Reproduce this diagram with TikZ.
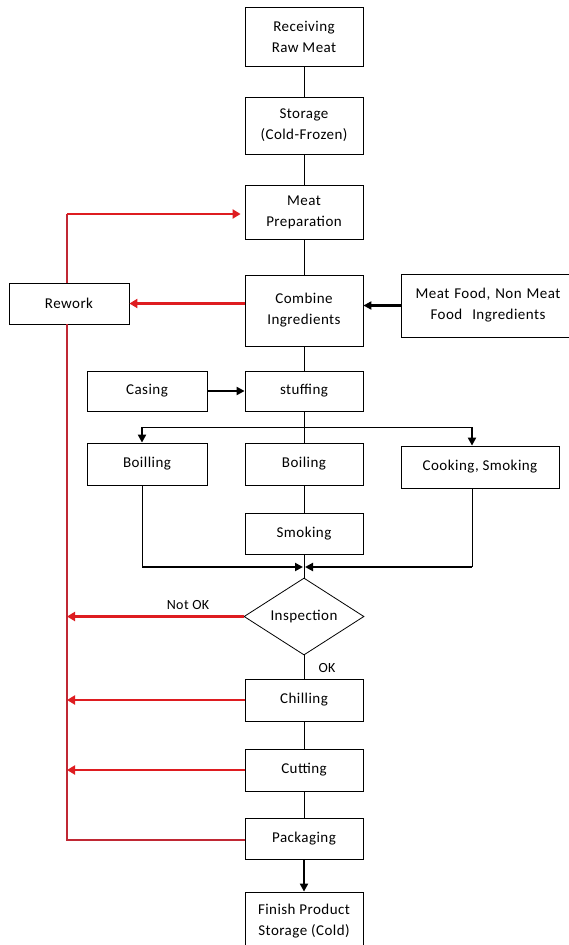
\documentclass[tikz,border=0pt]{standalone}
\usepackage{fontspec}
\setmainfont{Carlito}[LetterSpace=3]
\usetikzlibrary{arrows.meta,shapes.geometric}
\definecolor{fbred}{RGB}{222,28,32}
\definecolor{fbline}{RGB}{192,40,52}
\begin{document}
\begin{tikzpicture}[x=1pt,y=-1pt,
  box/.style={draw=black,line width=0.8pt,fill=white,minimum width=118pt,align=center,inner sep=0pt,font=\fontsize{15}{21}\selectfont},
  lbl/.style={font=\fontsize{14}{18}\selectfont,inner sep=0pt},
  conn/.style={draw=black,line width=0.8pt},
  tharrow/.style={draw=black,line width=2.2pt,-{Triangle[length=8pt,width=8pt]}},
  thline/.style={draw=black,line width=2.2pt},
  redarrow/.style={draw=fbred,line width=2.5pt,-{Triangle[length=8pt,width=9pt]}},
  redline/.style={draw=fbline,line width=1.2pt}]
\useasboundingbox (0,0) rectangle (568,945);
\fill[white] (0,0) rectangle (568,945);
% main column
\node[box,minimum height=59pt] (rec) at (304,36.5) {Receiving\\Raw Meat};
\node[box,minimum height=57pt] (sto) at (304,125.5) {Storage\\(Cold-Frozen)};
\node[box,minimum height=54pt] (prep) at (304,212) {Meat\\Preparation};
\node[box,minimum height=71pt] (comb) at (304,310.5) {Combine\\Ingredients};
\node[box,minimum height=63pt,minimum width=174pt,text width=160pt] (food) at (488,305.5) {Meat Food, Non Meat\\Food \ Ingredients};
\node[box,minimum height=41pt,minimum width=120pt] (rew) at (69,303.5) {Rework};
\node[box,minimum height=40pt,minimum width=120pt] (cas) at (147,391) {Casing};
\node[box,minimum height=40pt] (stf) at (304,391) {stuffing};
\node[box,minimum height=42pt,minimum width=120pt] (boilL) at (147,464) {Boilling};
\node[box,minimum height=42pt] (boilM) at (304,464) {Boiling};
\node[box,minimum height=42pt,minimum width=158pt] (cook) at (480,467) {Cooking, Smoking};
\node[box,minimum height=41pt] (smk) at (304,533.5) {Smoking};
\node[box,diamond,minimum width=120pt,minimum height=77pt,shape aspect=1.56] (insp) at (304,616.5) {Inspection};
\node[box,minimum height=42pt] (chil) at (304,700) {Chilling};
\node[box,minimum height=42pt] (cut) at (304,770) {Cutting};
\node[box,minimum height=41pt] (pack) at (304,838.5) {Packaging};
\node[box,minimum height=58pt] (fin) at (304,921) {Finish Product\\Storage (Cold)};
\node[lbl] (notok) at (188,605) {Not OK};
\node[lbl] (ok) at (327,668) {OK};
% coordinates
\coordinate (brL) at (142,427);
\coordinate (brR) at (472,427);
\coordinate (mL) at (142,567);
\coordinate (mR) at (472,567);
\coordinate (mC) at (304,567);
\coordinate (rTop) at (67,214);
\coordinate (rBot) at (67,840);
% vertical connectors
\draw[conn] (rec) -- (sto);
\draw[conn] (sto) -- (prep);
\draw[conn] (prep) -- (comb);
\draw[conn] (comb) -- (stf);
\draw[conn] (stf) -- (boilM);
\draw[conn] (boilM) -- (smk);
\draw[conn] (smk) -- (insp);
\draw[conn] (insp) -- (chil);
\draw[conn] (chil) -- (cut);
\draw[conn] (cut) -- (pack);
\draw[tharrow] (pack) -- (fin);
% side inputs
\draw[tharrow] (food.west) -- (food.west -| comb.east);
\draw[tharrow] (cas) -- (stf);
% branch
\draw[conn] (brL) -- (brR);
\draw[tharrow] (brL) -- (brL |- boilL.north);
\draw[tharrow] (brR) -- (brR |- cook.north);
% merge
\draw[conn] (boilL.south -| mL) -- (mL);
\draw[conn] (cook.south -| mR) -- (mR);
\draw[tharrow] (mL) -- ([xshift=-1pt]mC);
\draw[tharrow] (mR) -- ([xshift=1pt]mC);
% feedback
\draw[redline] (pack.west |- rBot) -- (rBot) -- (rBot |- rew.south);
\draw[redline] (rew.north -| rTop) -- (rTop);
\draw[redarrow,shorten >=4pt] (rTop) -- (rTop -| prep.west);
\draw[redarrow] (comb.west |- rew.east) -- (rew.east);
\draw[redarrow] (insp.west) -- (insp.west -| rBot);
\draw[redarrow] (chil.west) -- (chil.west -| rBot);
\draw[redarrow] (cut.west) -- (cut.west -| rBot);
\end{tikzpicture}
\end{document}
